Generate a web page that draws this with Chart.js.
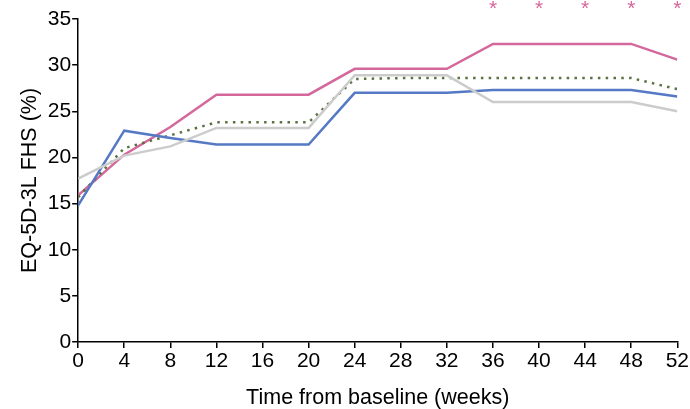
<!DOCTYPE html>
<html lang="en">
<head>
  <meta charset="UTF-8" />
  <title>EQ-5D-3L FHS over time</title>
  <script src="https://cdn.jsdelivr.net/npm/chart.js"></script>
  <style>html,body{margin:0;padding:0;background:#fff;}canvas{display:block;}</style>
</head>
<body>
  <canvas id="chart" width="690" height="409"></canvas>
  <script>
    const weeks = [0, 4, 8, 12, 16, 20, 24, 28, 32, 36, 40, 44, 48, 52];
    const grey  = [17.7, 20.2, 21.2, 23.2, 23.2, 23.2, 28.9, 28.9, 28.9, 26.0, 26.0, 26.0, 26.0, 25.0];
    const blue  = [14.8, 22.9, 22.1, 21.4, 21.4, 21.4, 27.0, 27.0, 27.0, 27.3, 27.3, 27.3, 27.3, 26.6];
    const green = [15.7, 21.0, 22.4, 23.8, 23.8, 23.8, 28.5, 28.6, 28.6, 28.6, 28.6, 28.6, 28.6, 27.4];
    const pink  = [15.9, 20.3, 23.3, 26.8, 26.8, 26.8, 29.6, 29.6, 29.6, 32.3, 32.3, 32.3, 32.3, 30.6];
    const sigWeeks = [36, 40, 44, 48, 52];

    const pts = ys => weeks.map((w, i) => ({ x: w, y: ys[i] }));
    const FONT = 'Liberation Sans, Arial, sans-serif';

    // pink asterisks above the plot for significant weeks
    const stars = {
      id: 'stars',
      afterDatasetsDraw(c) {
        const ctx = c.ctx, xs = c.scales.x;
        ctx.save();
        ctx.fillStyle = '#d4679c';
        ctx.font = '21px ' + FONT;
        ctx.textAlign = 'center';
        ctx.textBaseline = 'middle';
        sigWeeks.forEach(w => ctx.fillText('*', xs.getPixelForValue(w), c.chartArea.top - 10));
        ctx.restore();
      }
    };

    const line = (data, color, extra) => Object.assign({
      data: pts(data), borderColor: color, backgroundColor: color,
      borderWidth: 2.5, pointRadius: 0, tension: 0, fill: false
    }, extra || {});

    new Chart(document.getElementById('chart'), {
      type: 'line',
      data: {
        datasets: [
          line(grey, '#cccccc'),
          line(blue, '#5579c5'),
          line(green, '#5a7240', { borderDash: [2.5, 5.3], borderWidth: 2.5 }),
          line(pink, '#d4679c')
        ]
      },
      options: {
        responsive: false,
        animation: false,
        layout: { padding: { top: 19, right: 8, left: 13, bottom: -6 } },
        plugins: { legend: { display: false }, tooltip: { enabled: false } },
        scales: {
          x: {
            type: 'linear', min: 0, max: 52,
            border: { color: '#000', width: 1.5 },
            grid: { drawOnChartArea: false, drawTicks: true, tickLength: 6, color: '#000', lineWidth: 1.5 },
            ticks: { stepSize: 4, color: '#000', font: { family: FONT, size: 21 }, padding: 1, maxRotation: 0 },
            title: { display: true, text: 'Time from baseline (weeks)', color: '#000', font: { family: FONT, size: 21.5 }, padding: { top: 10 } }
          },
          y: {
            min: 0, max: 35,
            border: { color: '#000', width: 1.5 },
            grid: { drawOnChartArea: false, drawTicks: true, tickLength: 6, color: '#000', lineWidth: 1.5 },
            ticks: { stepSize: 5, color: '#000', font: { family: FONT, size: 21 }, padding: 1 },
            title: { display: true, text: 'EQ-5D-3L FHS (%)', color: '#000', font: { family: FONT, size: 21.5 }, padding: { bottom: 4 } }
          }
        }
      },
      plugins: [stars]
    });
  </script>
</body>
</html>
